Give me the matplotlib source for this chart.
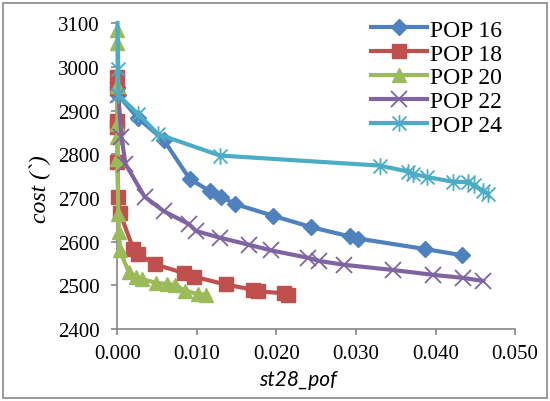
import matplotlib
matplotlib.use("Agg")
from matplotlib import pyplot as plt
from matplotlib.path import Path
from matplotlib.patches import Rectangle

# values
pop16_x = [0.0001, 0.0026, 0.0058, 0.0091, 0.0116, 0.0130, 0.0148, 0.0196,
           0.0244, 0.0292, 0.0303, 0.0387, 0.0433]
pop16_y = [2935, 2882, 2833, 2743, 2716, 2703, 2686, 2659,
           2633, 2612, 2607, 2583, 2569]

pop18_x = [0.0000, 0.0000, 0.0000, 0.0000, 0.0000, 0.0001, 0.0003, 0.0020,
           0.0026, 0.0047, 0.0084, 0.0096, 0.0136, 0.0170, 0.0177, 0.0210, 0.0215]
pop18_y = [2977, 2952, 2876, 2863, 2782, 2702, 2666, 2583,
           2572, 2548, 2528, 2520, 2502, 2490, 2486, 2482, 2478]

pop20_x = [0.0000, 0.0000, 0.0000, 0.0000, 0.0000, 0.0000, 0.0001, 0.0002,
           0.0003, 0.0014, 0.0023, 0.0031, 0.0048, 0.0062, 0.0072, 0.0085,
           0.0101, 0.0111]
pop20_y = [3085, 3055, 2955, 2870, 2840, 2790, 2663, 2622,
           2580, 2531, 2520, 2514, 2506, 2503, 2501, 2488,
           2480, 2479]

pop22_x = [0.0001, 0.0005, 0.0010, 0.0034, 0.0058, 0.0090, 0.0099, 0.0129,
           0.0165, 0.0193, 0.0240, 0.0253, 0.0285, 0.0347, 0.0397, 0.0435, 0.0460]
pop22_y = [2935, 2840, 2778, 2703, 2670, 2640, 2624, 2609,
           2593, 2580, 2563, 2556, 2547, 2535, 2524, 2517, 2510]

pop24_x = [0.0000, 0.0001, 0.0001, 0.0026, 0.0051, 0.0129, 0.0330, 0.0366,
           0.0372, 0.0389, 0.0422, 0.0441, 0.0448, 0.0460, 0.0466]
pop24_y = [3100, 2995, 2935, 2892, 2846, 2797, 2774, 2760,
           2755, 2748, 2737, 2736, 2729, 2716, 2710]

x_ticks = [0.000, 0.010, 0.020, 0.030, 0.040, 0.050]
y_ticks = [2400, 2500, 2600, 2700, 2800, 2900, 3000, 3100]

# excel style asterisk: an x with a vertical bar
star = Path([(-1, -1), (1, 1), (-1, 1), (1, -1), (0, -1.2), (0, 1.2)],
            [Path.MOVETO, Path.LINETO, Path.MOVETO, Path.LINETO,
             Path.MOVETO, Path.LINETO])

series = [
    ("POP 16", pop16_x, pop16_y, "#4F81BD", dict(marker="D", ms=8)),
    ("POP 18", pop18_x, pop18_y, "#C0504D", dict(marker="s", ms=10.5)),
    ("POP 20", pop20_x, pop20_y, "#9BBB59", dict(marker="^", ms=10)),
    ("POP 22", pop22_x, pop22_y, "#8064A2", dict(marker="x", ms=11, mew=1.3)),
    # first point (top of the chart) shows no marker in the reference
    ("POP 24", pop24_x, pop24_y, "#4BACC6", dict(marker=star, ms=12, mew=1.3, mfc="none",
                                                 markevery=list(range(1, len(pop24_x))))),
]

fig = plt.figure(figsize=(5.5, 4.02), dpi=100)
ax = fig.add_axes([0.2136, 0.179, 0.7228, 0.761])

for name, xs, ys, col, mk in series:
    ax.plot(xs, ys, color=col, lw=3, label=name, mec=col, clip_on=False, **mk)

ax.set_xlim(0, 0.05)
ax.set_ylim(2400, 3100)
ax.set_xticks(x_ticks)
ax.set_yticks(y_ticks)
ax.set_xticklabels(["%.3f" % t for t in x_ticks])

for s in ["top", "right"]:
    ax.spines[s].set_visible(False)
for s in ["left", "bottom"]:
    ax.spines[s].set_color("#868686")
    ax.spines[s].set_linewidth(1.2)
    ax.spines[s].set_zorder(0.5)

ax.tick_params(axis="both", colors="#868686", length=4, width=1.2,
               labelcolor="black", labelsize=15)
ax.tick_params(axis="y", pad=9)
ax.tick_params(axis="x", pad=7)
for lab in ax.get_xticklabels() + ax.get_yticklabels():
    lab.set_fontfamily("Liberation Serif")

ax.set_ylabel("cost (`)", fontfamily="Liberation Serif", fontstyle="italic", fontsize=17)
ax.yaxis.set_label_coords(-0.168, 0.46)
ax.set_xlabel("st28_pof", fontfamily="Lato", fontstyle="italic", fontsize=15)
ax.xaxis.set_label_coords(0.455, -0.13)

leg = ax.legend(loc="upper right", bbox_to_anchor=(0.912, 0.95), bbox_transform=fig.transFigure,
                frameon=False, prop={"family": "Liberation Serif", "size": 17},
                numpoints=1, handlelength=2.4, handletextpad=0.1, labelspacing=0.1,
                borderpad=0, borderaxespad=0)
# legend handles: one marker in the middle of the line
for h in leg.legend_handles:
    h.set_markevery([1])

fig.patches.append(Rectangle((0.006, 0.008), 0.988, 0.982, transform=fig.transFigure,
                             fill=False, edgecolor="#878787", lw=1.2))

fig.savefig("out.png", dpi=100)
